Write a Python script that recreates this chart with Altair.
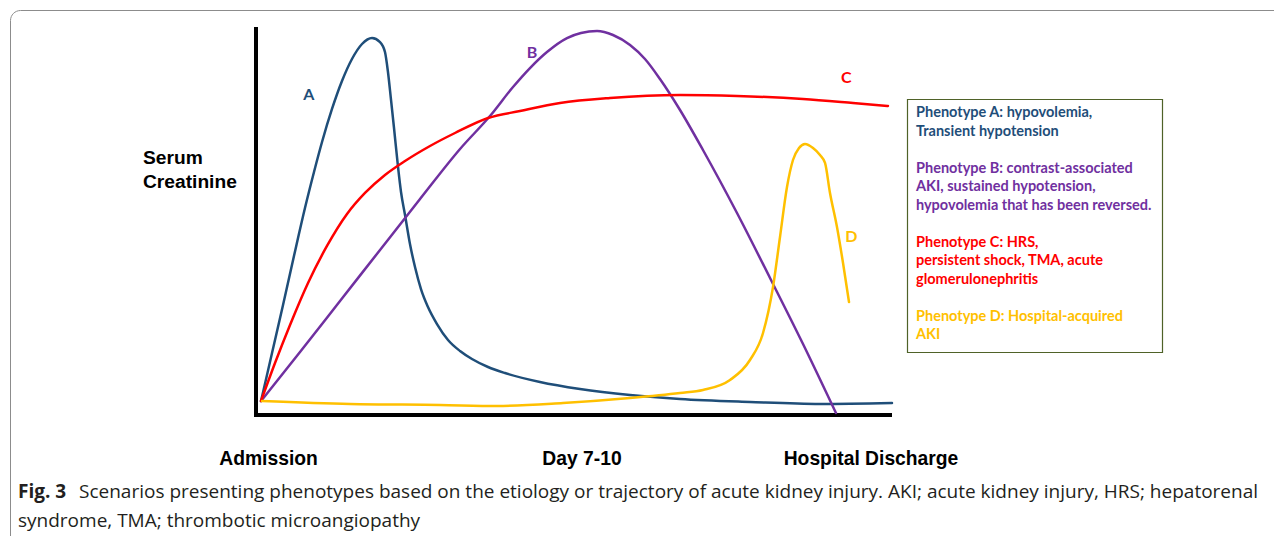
import altair as alt
import pandas as pd

# ---------------- data (arbitrary units: time 0-100 along the x axis, creatinine 0-100) -------------
series_names = ["A", "B", "C", "D"]
series_colors = ["#1f4e79", "#7030a0", "#ff0000", "#ffc000"]
series_widths = [2.5, 2.5, 3.0, 2.5]

a_t = [0.79, 2.52, 4.25, 5.97, 7.70, 9.12, 10.38, 11.95, 13.52, 15.09, 16.67, 18.24, 19.50, 20.28,
       20.75, 21.23, 21.70, 22.33, 22.80, 23.43, 24.21, 25.00, 25.94, 27.04, 28.46, 30.19, 32.08,
       33.96, 36.48, 39.15, 44.65, 50.94, 58.81, 66.67, 77.67, 88.68, 100.0]
a_y = [3.61, 15.98, 28.35, 40.98, 53.35, 62.63, 70.36, 78.87, 86.08, 91.75, 95.62, 97.16, 96.13,
       93.56, 88.40, 81.19, 73.97, 63.92, 57.47, 51.55, 44.07, 38.14, 32.47, 27.84, 23.45, 19.33,
       16.49, 14.43, 12.37, 10.82, 8.51, 6.70, 5.15, 4.12, 3.35, 2.84, 3.09]

b_t = [0.79, 6.92, 13.21, 19.50, 25.79, 32.08, 36.79, 40.41, 43.08, 45.75, 48.90, 51.10, 53.62,
       56.13, 58.81, 61.16, 63.52, 66.67, 70.28, 75.63, 80.82, 86.01, 91.19]
b_y = [3.61, 16.24, 29.38, 42.53, 55.67, 68.56, 77.06, 84.54, 89.43, 93.56, 97.16, 98.45, 98.97,
       97.94, 95.36, 91.75, 86.60, 78.61, 68.30, 52.06, 35.31, 18.30, 0.52]

c_t = [0.79, 2.99, 5.35, 8.18, 11.16, 14.31, 17.14, 20.28, 23.43, 27.36, 31.29, 36.48, 41.51,
       47.80, 55.66, 66.67, 75.63, 86.01, 93.87, 99.37]
c_y = [3.61, 13.40, 23.20, 34.02, 43.56, 51.80, 57.22, 61.86, 65.46, 69.33, 72.68, 76.55, 78.35,
       80.41, 81.70, 82.47, 82.22, 81.44, 80.41, 79.64]

d_t = [0.94, 14.78, 28.93, 37.89, 48.27, 58.81, 66.67, 70.28, 74.53, 77.67, 79.72, 81.29, 82.39,
       83.49, 84.43, 85.38, 86.32, 87.58, 88.68, 89.47, 90.25, 91.35, 92.30, 93.24]
d_y = [3.61, 2.84, 2.58, 2.32, 3.09, 4.38, 5.67, 6.44, 9.02, 14.18, 21.13, 32.99, 45.88, 58.76,
       65.72, 68.81, 69.85, 68.81, 67.01, 64.95, 57.22, 48.45, 39.18, 29.12]

curve_label_t = [8.3, 43.4, 92.8, 93.6]
curve_label_y = [82.5, 93.3, 86.9, 45.9]

x_labels = ["Admission", "Day 7-10", "Hospital Discharge"]
x_label_t = [1.97, 51.26, 96.70]

y_title = ["Serum", "Creatinine"]

legend_groups = [
    ("A", ["Phenotype A: hypovolemia,", "Transient hypotension"]),
    ("B", ["Phenotype B: contrast-associated", "AKI, sustained hypotension,",
           "hypovolemia that has been reversed."]),
    ("C", ["Phenotype C: HRS,", "persistent shock, TMA, acute", "glomerulonephritis"]),
    ("D", ["Phenotype D: Hospital-acquired", "AKI"]),
]

caption_bold = "Fig. 3"
caption_line1 = ("Scenarios presenting phenotypes based on the etiology or trajectory of acute kidney "
                 "injury. AKI; acute kidney injury, HRS; hepatorenal")
caption_line2 = "syndrome, TMA; thrombotic microangiopathy"

# ---------------- layout (page pixels) -------------
W, H = 1266, 528
M = 8                      # page margin
X0, PXT = 256.0, 6.36      # page x of t=0, pixels per unit
Y0, PXY = 415.0, 3.88      # page y of v=0, pixels per unit


def to_t(px):
    return (px - X0) / PXT


def to_v(py):
    return (Y0 - py) / PXY


xs = alt.Scale(domain=[to_t(M), to_t(M + W)], nice=False, zero=False)
ys = alt.Scale(domain=[to_v(M + H), to_v(M)], nice=False, zero=False)
X = lambda f="t": alt.X(f"{f}:Q", scale=xs, axis=None)
Y = lambda f="v": alt.Y(f"{f}:Q", scale=ys, axis=None)
X2 = lambda f="t2": alt.X2(f"{f}:Q")
Y2 = lambda f="v2": alt.Y2(f"{f}:Q")
color = alt.Color("series:N", scale=alt.Scale(domain=series_names, range=series_colors), legend=None)

# curves
rows = []
for name, ts, vs in zip(series_names, [a_t, b_t, c_t, d_t], [a_y, b_y, c_y, d_y]):
    for i, (t, v) in enumerate(zip(ts, vs)):
        rows.append({"series": name, "t": t, "v": v, "i": i})
curves_df = pd.DataFrame(rows)

curves = alt.Chart(curves_df).mark_line(interpolate="monotone", strokeCap="round").encode(
    x=X(), y=Y(), color=color, detail="series:N", order="i:Q",
    size=alt.Size("series:N", scale=alt.Scale(domain=series_names, range=series_widths), legend=None),
)

labels_df = pd.DataFrame({"series": series_names, "t": curve_label_t, "v": curve_label_y})
curve_labels = alt.Chart(labels_df).mark_text(
    font="Lato", fontWeight="bold", fontSize=16, align="center", baseline="middle"
).encode(x=X(), y=Y(), text="series:N", color=color)

# axes lines
axes_df = pd.DataFrame({
    "t": [0.0, to_t(254)], "v": [to_v(417), 0.0],
    "t2": [0.0, 100.0], "v2": [100.0, 0.0],
})
axes = alt.Chart(axes_df).mark_rule(color="black", strokeWidth=4, strokeCap="butt").encode(
    x=X(), y=Y(), x2=X2(), y2=Y2()
)

# x "tick" labels
xl_df = pd.DataFrame({"label": x_labels, "t": x_label_t, "v": [to_v(459)] * 3})
x_text = alt.Chart(xl_df).mark_text(
    font="Liberation Sans", fontWeight="bold", fontSize=19.3, align="center", baseline="middle", color="black"
).encode(x=X(), y=Y(), text="label:N")

# y title
yt_df = pd.DataFrame({"label": y_title, "t": [to_t(143)] * 2, "v": [to_v(158), to_v(182)]})
y_text = alt.Chart(yt_df).mark_text(
    font="Liberation Sans", fontWeight="bold", fontSize=19.2, align="left", baseline="middle", color="black"
).encode(x=X(), y=Y(), text="label:N")

# legend box
lrows = []
slot = 0
for g, lines in legend_groups:
    for ln in lines:
        lrows.append({"series": g, "label": ln, "t": to_t(916), "v": to_v(113 + slot * 18.5)})
        slot += 1
    slot += 1
leg_df = pd.DataFrame(lrows)
leg_text = alt.Chart(leg_df).mark_text(
    font="Lato", fontWeight="bold", fontSize=14.5, align="left", baseline="middle"
).encode(x=X(), y=Y(), text="label:N", color=color)

box_df = pd.DataFrame({"t": [to_t(907.5)], "v": [to_v(99.5)], "t2": [to_t(1162.5)], "v2": [to_v(352.5)]})
leg_box = alt.Chart(box_df).mark_rect(fillOpacity=0, stroke="#4f6228", strokeWidth=1.2).encode(
    x=X(), y=Y(), x2=X2(), y2=Y2()
)

# outer rounded frame (runs off the right and bottom of the picture)
frame_df = pd.DataFrame({"t": [to_t(10.5)], "v": [to_v(10.5)], "t2": [to_t(1300)], "v2": [to_v(570)]})
frame = alt.Chart(frame_df).mark_rect(fillOpacity=0, stroke="#8c8c8c", strokeWidth=1, cornerRadius=10).encode(
    x=X(), y=Y(), x2=X2(), y2=Y2()
)

# caption
cap_b = alt.Chart(pd.DataFrame({"label": [caption_bold], "t": [to_t(18)], "v": [to_v(492)]})).mark_text(
    font="Open Sans", fontWeight="bold", fontSize=19, align="left", baseline="middle", color="#231f20"
).encode(x=X(), y=Y(), text="label:N")
cap_r = alt.Chart(pd.DataFrame({"label": [caption_line1, caption_line2],
                                "t": [to_t(79), to_t(18)], "v": [to_v(492), to_v(521)]})).mark_text(
    font="Open Sans", fontSize=19, align="left", baseline="middle", color="#231f20"
).encode(x=X(), y=Y(), text="label:N")

chart = alt.layer(
    frame, axes, curves, curve_labels, x_text, y_text, leg_box, leg_text, cap_b, cap_r
).properties(
    width=W, height=H, padding=0, autosize=alt.AutoSizeParams(type="none"), background="white"
).configure_view(stroke=None)

chart.save("out.html", embed_options={"renderer": "svg", "actions": False})
